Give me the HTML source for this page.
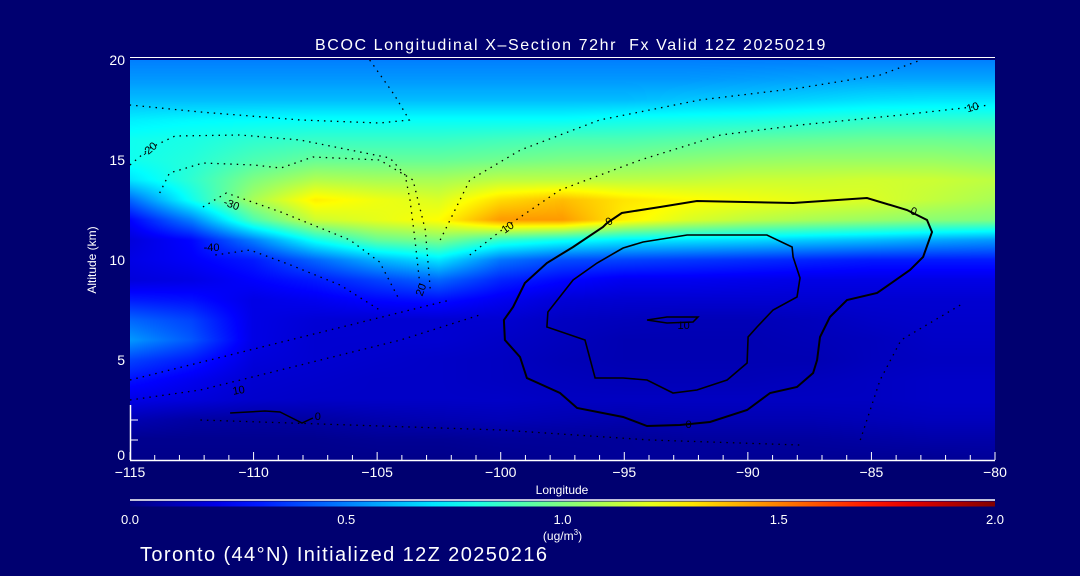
<!DOCTYPE html>
<html><head><meta charset="utf-8"><style>
html,body{margin:0;padding:0;background:#000070;width:1080px;height:576px;overflow:hidden;font-family:"Liberation Sans",sans-serif;color:#fff}
#wrap{position:relative;width:1080px;height:576px}
canvas{position:absolute;left:130px;top:60px}
svg{position:absolute;left:0;top:0}
</style></head><body>
<div id="wrap">
<canvas id="field" width="865" height="400"></canvas>
<svg id="ov" width="1080" height="576"></svg>
</div>
<script>
// ---- data ----
const lons = [-115,-112.5,-110,-107.5,-105,-102.5,-100,-97.5,-95,-92.5,-90,-87.5,-85,-82.5,-80];
const alts = [0,1,2,3,4,5,6,7,8,9,10,11,12,13,14,15,16,17,18,19,20];
const conc = [
[0.02,0.02,0.02,0.02,0.02,0.02,0.03,0.04,0.05,0.05,0.04,0.04,0.04,0.04,0.05],
[0.03,0.03,0.03,0.03,0.04,0.04,0.05,0.05,0.05,0.06,0.06,0.06,0.07,0.08,0.08],
[0.1,0.07,0.06,0.07,0.09,0.1,0.11,0.1,0.09,0.1,0.1,0.1,0.11,0.12,0.12],
[0.2,0.18,0.15,0.14,0.14,0.14,0.14,0.13,0.13,0.13,0.13,0.13,0.13,0.14,0.14],
[0.28,0.22,0.16,0.15,0.14,0.14,0.13,0.12,0.11,0.11,0.11,0.12,0.13,0.14,0.14],
[0.38,0.3,0.18,0.16,0.15,0.14,0.13,0.11,0.1,0.1,0.1,0.1,0.12,0.13,0.13],
[0.55,0.42,0.2,0.16,0.16,0.16,0.14,0.12,0.1,0.1,0.1,0.11,0.12,0.14,0.14],
[0.45,0.38,0.2,0.17,0.16,0.16,0.16,0.13,0.12,0.11,0.11,0.12,0.14,0.15,0.15],
[0.3,0.28,0.2,0.22,0.26,0.28,0.22,0.17,0.16,0.16,0.16,0.16,0.16,0.16,0.16],
[0.18,0.2,0.25,0.3,0.38,0.45,0.32,0.26,0.22,0.22,0.21,0.2,0.2,0.2,0.2],
[0.2,0.24,0.3,0.45,0.6,0.7,0.48,0.4,0.38,0.36,0.34,0.32,0.3,0.3,0.3],
[0.18,0.26,0.5,0.78,0.95,1.0,0.85,0.78,0.72,0.7,0.68,0.65,0.62,0.58,0.55],
[0.25,0.5,0.9,1.15,1.2,1.25,1.45,1.45,1.28,1.18,1.12,1.08,1.05,1.02,1.0],
[0.45,0.78,1.08,1.28,1.22,1.18,1.32,1.38,1.3,1.26,1.23,1.2,1.18,1.13,1.08],
[0.7,0.84,1.0,1.1,1.08,1.08,1.12,1.12,1.12,1.13,1.15,1.15,1.16,1.15,1.12],
[0.78,0.82,0.9,0.95,0.95,0.95,0.97,0.99,1.0,1.02,1.04,1.05,1.05,1.05,1.03],
[0.78,0.8,0.84,0.86,0.86,0.86,0.88,0.9,0.9,0.92,0.94,0.95,0.96,0.96,0.95],
[0.72,0.74,0.75,0.76,0.76,0.76,0.76,0.76,0.78,0.79,0.8,0.82,0.84,0.84,0.84],
[0.62,0.62,0.62,0.62,0.62,0.62,0.62,0.62,0.62,0.64,0.65,0.67,0.69,0.7,0.7],
[0.55,0.55,0.55,0.55,0.55,0.55,0.55,0.55,0.55,0.55,0.56,0.57,0.58,0.58,0.58],
[0.5,0.5,0.5,0.5,0.5,0.5,0.5,0.5,0.5,0.5,0.5,0.5,0.5,0.5,0.5]
];
const xTicks = [-115,-110,-105,-100,-95,-90,-85,-80];
const yTicks = [0,5,10,15,20];
const cbTicks = [0.0,0.5,1.0,1.5,2.0];
// contours: [lon, alt] pairs
const contOuter = [[-95.7,11.85],[-95.1,12.35],[-93.55,12.65],[-92.06,12.95],[-88.17,12.85],[-85.18,13.1],[-83.56,12.5],[-82.75,12.0],[-82.55,11.4],[-82.91,10.15],[-83.44,9.5],[-84.77,8.35],[-85.99,8.0],[-86.68,7.15],[-87.08,6.15],[-87.2,5.0],[-87.36,4.35],[-88.01,3.65],[-89.1,3.35],[-90.03,2.5],[-91.53,1.9],[-92.75,1.75],[-94.08,1.7],[-95.05,2.15],[-96.91,2.6],[-97.6,3.35],[-98.94,4.1],[-99.22,5.15],[-99.83,6.0],[-99.87,7.0],[-99.5,7.65],[-99.02,8.85],[-98.13,9.85],[-97.07,10.65],[-95.86,11.65],[-95.7,11.85]];
const contInner = [[-95.05,10.6],[-94.24,10.9],[-92.46,11.25],[-89.23,11.25],[-88.21,10.65],[-88.17,10.15],[-87.89,9.1],[-88.01,8.15],[-88.98,7.5],[-89.63,6.65],[-89.99,6.15],[-90.03,4.85],[-90.84,4.0],[-92.06,3.5],[-93.03,3.35],[-94.08,4.0],[-95.05,4.1],[-96.18,4.1],[-96.59,6.0],[-98.13,6.65],[-98.09,7.4],[-97.07,9.0],[-96.1,9.85],[-95.05,10.6]];
const contCore = [[-94.08,7.0],[-93.27,7.15],[-92.02,7.15],[-92.22,6.9],[-93.27,6.85],[-94.08,7.0]];
const contLow = [[-110.95,2.35],[-109.54,2.45],[-108.93,2.4],[-108.04,1.85],[-107.6,2.1]];
const dotted = [
[[-115,14.75],[-114.19,15.6],[-113.18,16.2],[-110.55,16.25],[-108.12,16.0],[-106.1,15.5],[-104.48,15.1],[-103.87,14.25],[-103.67,13.0],[-103.47,11.0],[-103.27,8.75]],
[[-113.8,13.35],[-113.4,14.35],[-112.05,14.85],[-110.0,14.75],[-108.9,14.6],[-107.6,15.15],[-104.9,15.0],[-103.55,14.0],[-103.05,11.5],[-102.85,8.5]],
[[-112.05,12.65],[-111.1,13.35],[-108.9,12.4],[-107.6,11.75],[-106.1,11.0],[-104.9,9.9],[-104.1,8.0]],
[[-111.55,10.25],[-110.15,10.5],[-108.5,9.75],[-106.5,8.75],[-104.9,7.5]],
[[-101.25,10.25],[-99.8,11.65],[-97.6,13.5],[-94.35,15.0],[-91.1,16.25],[-87.9,16.75],[-83.8,17.25],[-80.2,17.75]],
[[-102.45,11.0],[-101.25,14.0],[-99.2,15.5],[-96.0,17.0],[-91.95,18.0],[-87.9,18.6],[-84.65,19.25],[-83.0,20]],
[[-105.3,20],[-104.3,18.25],[-103.7,17.0],[-104.9,16.85],[-108.1,17.0],[-112.15,17.4],[-115,17.75]],
[[-115,3.0],[-112.15,3.5],[-108.1,4.75],[-104.05,6.0],[-100.85,7.25]],
[[-115,4.0],[-110.15,5.5],[-106.1,6.75],[-102.05,8.0]],
[[-85.45,1.0],[-84.65,4.0],[-83.8,6.0],[-81.4,7.75]],
[[-112.15,2.0],[-106.1,1.75],[-100.0,1.5],[-93.95,1.0],[-87.9,0.75]]
];
const contLabels = [["-20",-114.2,15.5,-40],["-30",-110.9,12.75,20],["-40",-111.7,10.6,0],["10",-99.7,11.6,-35],["10",-80.9,17.6,-15],["20",-103.2,8.5,-70],["10",-110.6,3.45,-10],["0",-95.6,11.9,-35],["0",-83.3,12.4,20],["0",-92.4,1.75,0],["10",-92.6,6.7,0],["0",-107.4,2.15,0]];

// ---- axes ----
const X0=130,X1=995,Y0=460,Y1=60;
const sx = lon => X0 + (lon+115)/35*(X1-X0);
const sy = alt => Y0 - alt/20*(Y0-Y1);
const cx = v => X0 + v/2*(X1-X0);

function jet(t){t=Math.max(0,Math.min(1,t));const c=v=>Math.max(0,Math.min(1,1.5-Math.abs(v)));
return [c(4*t-3)*255,c(4*t-2)*255,c(4*t-1)*255];}

// ---- field ----
const cv=document.getElementById('field'),ctx=cv.getContext('2d');
const W=cv.width,H=cv.height,img=ctx.createImageData(W,H);
function sample(lon,alt){
  let fi=(lon-lons[0])/(lons[1]-lons[0]),fj=(alt-alts[0])/(alts[1]-alts[0]);
  fi=Math.max(0,Math.min(lons.length-1.0001,fi));fj=Math.max(0,Math.min(alts.length-1.0001,fj));
  const i=Math.floor(fi),j=Math.floor(fj),a=fi-i,b=fj-j;
  return (conc[j][i]*(1-a)+conc[j][i+1]*a)*(1-b)+(conc[j+1][i]*(1-a)+conc[j+1][i+1]*a)*b;
}
for(let py=0;py<H;py++){for(let px=0;px<W;px++){
  const lon=-115+(px+0.5)/W*35,alt=20-(py+0.5)/H*20;
  const c=jet(sample(lon,alt)/2),k=(py*W+px)*4;
  img.data[k]=c[0];img.data[k+1]=c[1];img.data[k+2]=c[2];img.data[k+3]=255;}}
ctx.putImageData(img,0,0);

// ---- overlay ----
const svg=document.getElementById('ov'),NS='http://www.w3.org/2000/svg';
function mk(tag,attrs,parent){const e=document.createElementNS(NS,tag);for(const k in attrs)e.setAttribute(k,attrs[k]);(parent||svg).appendChild(e);return e;}
const pts=arr=>arr.map(p=>sx(p[0]).toFixed(1)+','+sy(p[1]).toFixed(1)).join(' ');

let e;
e=mk('polyline',{points:pts(contOuter),fill:'none',stroke:'#000',"stroke-width":2});


e=mk('polyline',{points:pts(contInner),fill:'none',stroke:'#000',"stroke-width":1.6});


e=mk('polyline',{points:pts(contCore),fill:'none',stroke:'#000',"stroke-width":1.6});


e=mk('polyline',{points:pts(contLow),fill:'none',stroke:'#000',"stroke-width":1.5});


dotted.forEach(d=>{
  const l=mk('polyline',{points:pts(d),fill:'none',stroke:'#000',"stroke-width":1.3,"stroke-dasharray":"1.5 5"});
  
  
});
contLabels.forEach(L=>{
  const t=mk('text',{x:sx(L[1]),y:sy(L[2]),fill:'#000',"font-size":11,"text-anchor":"middle","dominant-baseline":"middle",transform:`rotate(${L[3]} ${sx(L[1])} ${sy(L[2])})`});
  t.textContent=L[0];
  
  
});

// axes lines
e=mk('line',{x1:X0,y1:Y0+0.5,x2:X1,y2:Y0+0.5,stroke:'#fff',"stroke-width":1.5});


e=mk('line',{x1:X0,y1:57.5,x2:X1,y2:57.5,stroke:'#fff',"stroke-width":1});


e=mk('line',{x1:X0+0.5,y1:405,x2:X0+0.5,y2:Y0,stroke:'#fff',"stroke-width":1.5});


for(let v=-115;v<=-80;v++){
  const major=xTicks.includes(v);
  const t=mk('line',{x1:sx(v),y1:Y0,x2:sx(v),y2:Y0-(major?8:5),stroke:'#fff',"stroke-width":1});
  
  
}
xTicks.forEach(v=>{
  const t=mk('text',{x:sx(v),y:477,fill:'#fff',"font-size":14,"text-anchor":"middle"});
  t.textContent=(v<0?'\u2212'+(-v):v);
  
  
});
[1,2].forEach(v=>{
  const t=mk('line',{x1:X0,y1:sy(v),x2:X0+8,y2:sy(v),stroke:'#fff',"stroke-width":1});
  
  
});
yTicks.forEach(v=>{
  const t=mk('text',{x:125,y:sy(v)+(v===0?0:5),fill:'#fff',"font-size":14,"text-anchor":"end"});
  t.textContent=v;
  
  
});
e=mk('text',{x:0,y:0,fill:'#fff',"font-size":12,"text-anchor":"middle",transform:'translate(96,260) rotate(-90)'});
e.textContent='Altitude (km)';


e=mk('text',{x:562,y:494,fill:'#fff',"font-size":12,"text-anchor":"middle"});
e.textContent='Longitude';


e=mk('text',{x:571,y:50,fill:'#fff',"font-size":16,"letter-spacing":"1.6","text-anchor":"middle"});
e.textContent='BCOC Longitudinal X\u2013Section 72hr\u00a0 Fx Valid 12Z 20250219';



// colorbar
const defs=mk('defs',{});
const grad=mk('linearGradient',{id:'jetg',x1:0,x2:1,y1:0,y2:0},defs);
for(let i=0;i<=20;i++){const c=jet(i/20);mk('stop',{offset:i/20,"stop-color":`rgb(${c.map(Math.round).join(',')})`},grad);}
e=mk('line',{x1:X0,y1:500,x2:X1,y2:500,stroke:'#fff',"stroke-width":1.5});


e=mk('rect',{x:X0,y:501.5,width:X1-X0,height:5,fill:'url(#jetg)'});


cbTicks.forEach(v=>{
  const t=mk('text',{x:cx(v),y:524,fill:'#fff',"font-size":13,"text-anchor":"middle"});
  t.textContent=v.toFixed(1);
  
  
});
e=mk('text',{x:cx(1.0),y:540,fill:'#fff',"font-size":12,"text-anchor":"middle"});
e.innerHTML='(ug/m<tspan dy="-5" font-size="8">3</tspan><tspan dy="5">)</tspan>';


e=mk('text',{x:140,y:561,fill:'#fff',"font-size":20,"letter-spacing":"1.4"});
e.textContent='Toronto (44\u00B0N) Initialized 12Z 20250216';


</script>
</body></html>
